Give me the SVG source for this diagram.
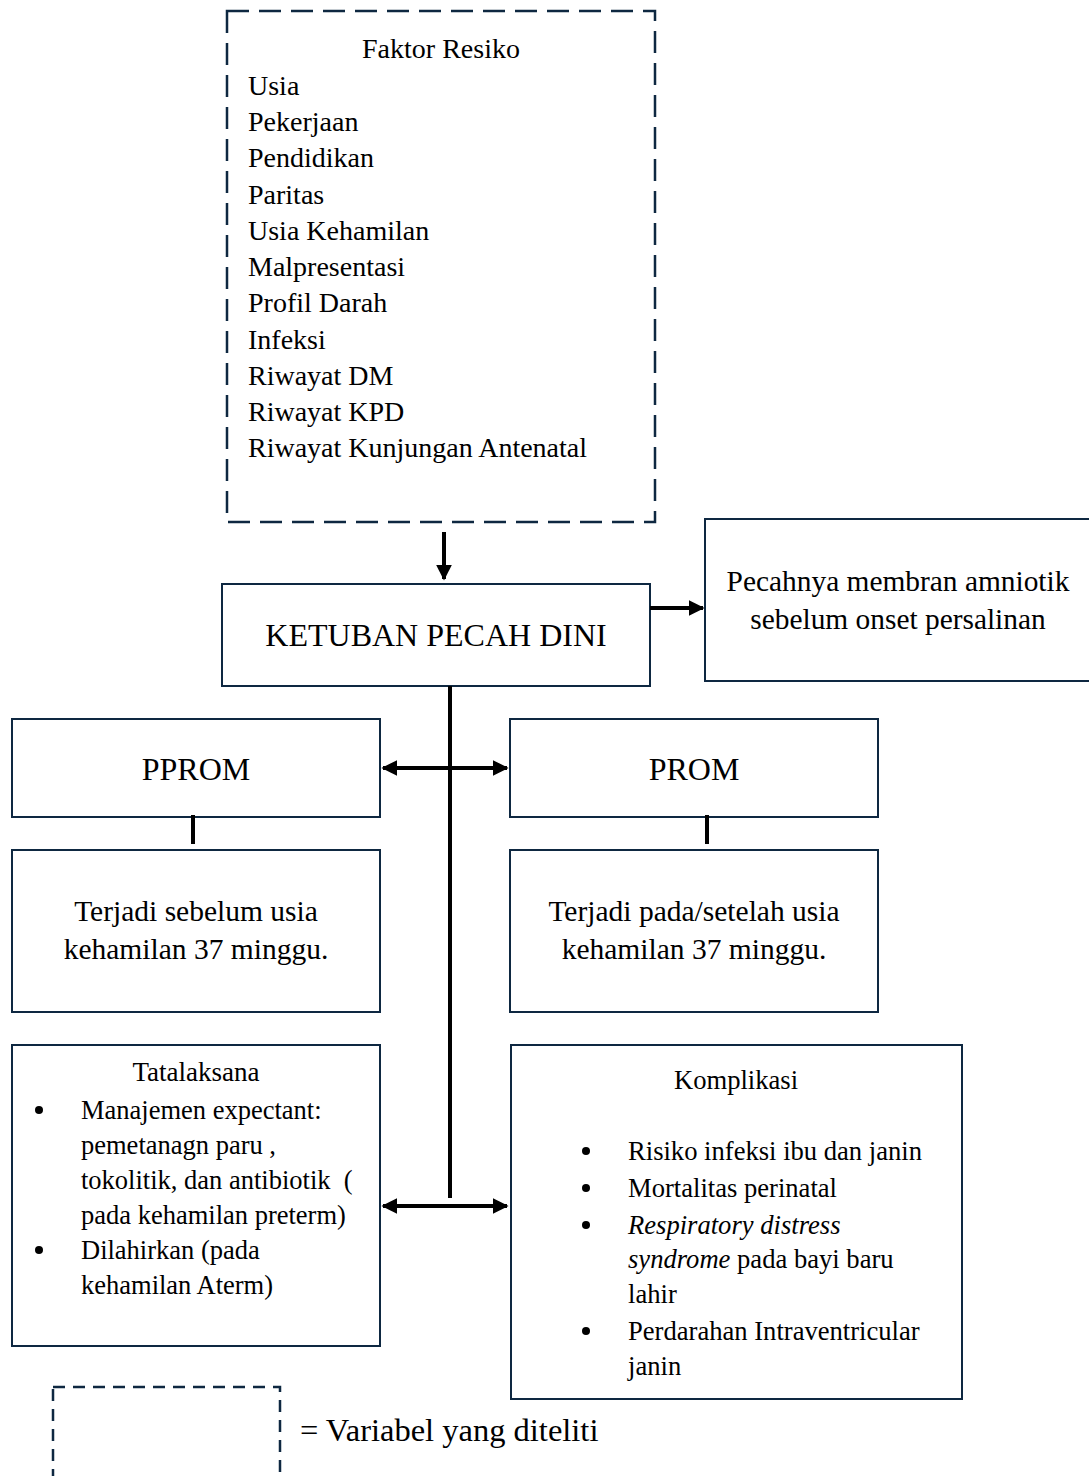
<svg xmlns="http://www.w3.org/2000/svg" width="1089" height="1476" viewBox="0 0 1089 1476">
<defs>
<style>
.box{fill:#fff;stroke:#0e2841;stroke-width:2}
.dash{fill:none;stroke:#0e2841;stroke-width:2.5;stroke-dasharray:22 10}
.dash2{fill:none;stroke:#0e2841;stroke-width:2.5;stroke-dasharray:12 8}
.ln{stroke:#000;stroke-width:4;fill:none}
text{font-family:"Liberation Serif","Times New Roman",serif;fill:#000}
.c{text-anchor:middle}
</style>
<marker id="ah" viewBox="0 0 10 10" refX="9" refY="5" markerWidth="4" markerHeight="4" orient="auto-start-reverse" markerUnits="strokeWidth">
<path d="M0,0 L10,5 L0,10 z" fill="#000"/>
</marker>
</defs>
<g id="faktor">
<rect class="dash" x="227" y="11" width="428" height="511"/>
<text class="c" x="441" y="58" font-size="28">Faktor Resiko</text>
<g font-size="28">
<text x="248" y="95">Usia</text>
<text x="248" y="131">Pekerjaan</text>
<text x="248" y="167">Pendidikan</text>
<text x="248" y="204">Paritas</text>
<text x="248" y="240">Usia Kehamilan</text>
<text x="248" y="276">Malpresentasi</text>
<text x="248" y="312">Profil Darah</text>
<text x="248" y="349">Infeksi</text>
<text x="248" y="385">Riwayat DM</text>
<text x="248" y="421">Riwayat KPD</text>
<text x="248" y="457">Riwayat Kunjungan Antenatal</text>
</g>
</g>
<g id="kpd">
<rect class="box" x="222" y="584" width="428" height="102"/>
<text class="c" x="436" y="646" font-size="32">KETUBAN PECAH DINI</text>
</g>
<g id="definisi">
<rect class="box" x="705" y="519" width="390" height="162"/>
<text class="c" x="898" y="591" font-size="29.4">Pecahnya membran amniotik</text>
<text class="c" x="898" y="629" font-size="29.4">sebelum onset persalinan</text>
</g>
<g id="pprom">
<rect class="box" x="12" y="719" width="368" height="98"/>
<text class="c" x="196" y="780" font-size="32">PPROM</text>
</g>
<g id="prom">
<rect class="box" x="510" y="719" width="368" height="98"/>
<text class="c" x="694" y="780" font-size="32">PROM</text>
</g>
<g id="pprom-desc">
<rect class="box" x="12" y="850" width="368" height="162"/>
<text class="c" x="196" y="921" font-size="29.5">Terjadi sebelum usia</text>
<text class="c" x="196" y="959" font-size="29.5">kehamilan 37 minggu.</text>
</g>
<g id="prom-desc">
<rect class="box" x="510" y="850" width="368" height="162"/>
<text class="c" x="694" y="921" font-size="29.5">Terjadi pada/setelah usia</text>
<text class="c" x="694" y="959" font-size="29.5">kehamilan 37 minggu.</text>
</g>
<g id="tatalaksana">
<rect class="box" x="12" y="1045" width="368" height="301"/>
<text class="c" x="196" y="1081" font-size="27">Tatalaksana</text>
<g font-size="26.5">
<circle cx="39" cy="1110" r="4"/>
<text x="81" y="1119">Manajemen expectant:</text>
<text x="81" y="1154">pemetanagn paru ,</text>
<text x="81" y="1189" xml:space="preserve">tokolitik, dan antibiotik  (</text>
<text x="81" y="1224">pada kehamilan preterm)</text>
<circle cx="39" cy="1250" r="4"/>
<text x="81" y="1259">Dilahirkan (pada</text>
<text x="81" y="1294">kehamilan Aterm)</text>
</g>
</g>
<g id="komplikasi">
<rect class="box" x="511" y="1045" width="451" height="354"/>
<text class="c" x="736" y="1089" font-size="26.6">Komplikasi</text>
<g font-size="26.6">
<circle cx="586" cy="1151" r="4"/>
<text x="628" y="1160">Risiko infeksi ibu dan janin</text>
<circle cx="586" cy="1188" r="4"/>
<text x="628" y="1197">Mortalitas perinatal</text>
<circle cx="586" cy="1225" r="4"/>
<text x="628" y="1234" font-style="italic">Respiratory distress</text>
<text x="628" y="1268"><tspan font-style="italic">syndrome</tspan> pada bayi baru</text>
<text x="628" y="1303">lahir</text>
<circle cx="586" cy="1331" r="4"/>
<text x="628" y="1340">Perdarahan Intraventricular</text>
<text x="628" y="1375">janin</text>
</g>
</g>
<g id="legend">
<rect class="dash2" x="53" y="1387" width="227" height="110"/>
<text x="300" y="1441" font-size="32.5">= Variabel yang diteliti</text>
</g>
<g id="connectors">
<line class="ln" x1="444" y1="532" x2="444" y2="579" marker-end="url(#ah)"/>
<line class="ln" x1="650" y1="608" x2="703" y2="608" marker-end="url(#ah)"/>
<line class="ln" x1="450" y1="686" x2="450" y2="1198"/>
<line class="ln" x1="383" y1="768" x2="507" y2="768" marker-start="url(#ah)" marker-end="url(#ah)"/>
<line class="ln" x1="193" y1="815" x2="193" y2="844"/>
<line class="ln" x1="707" y1="815" x2="707" y2="844"/>
<line class="ln" x1="383" y1="1206" x2="507" y2="1206" marker-start="url(#ah)" marker-end="url(#ah)"/>
</g>
</svg>
